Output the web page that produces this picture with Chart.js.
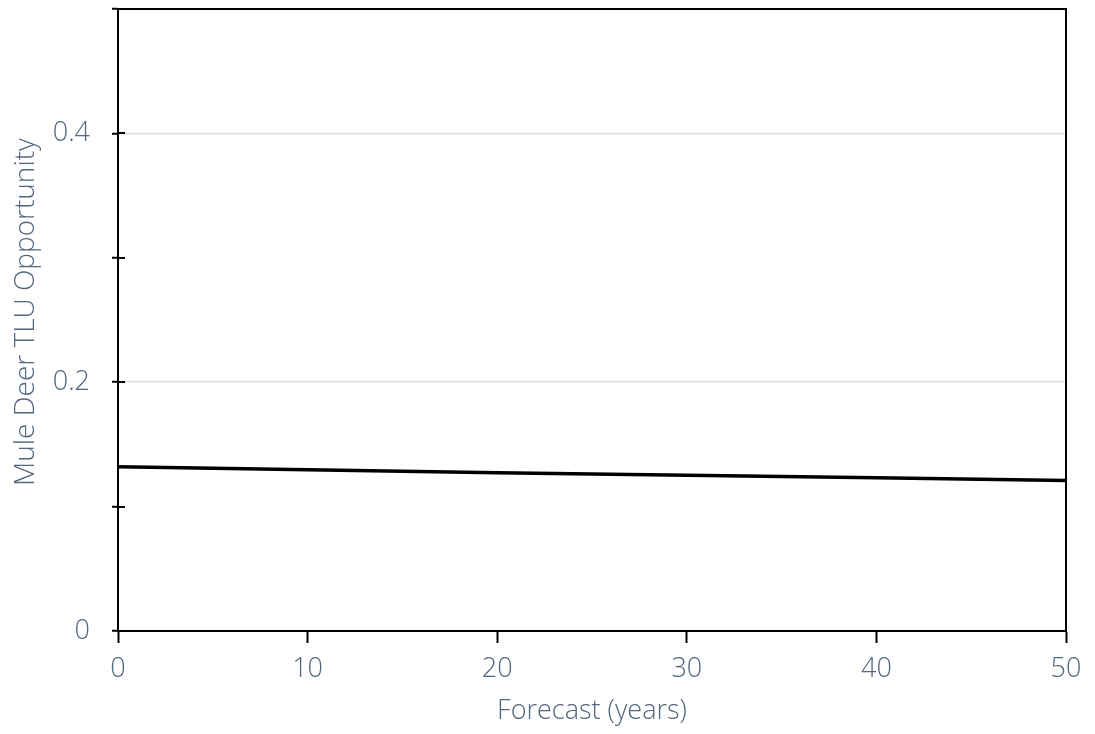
<!DOCTYPE html>
<html>
<head>
<meta charset="utf-8">
<script src="https://cdn.jsdelivr.net/npm/chart.js@4/dist/chart.umd.min.js"></script>
<style>
  html, body { margin: 0; padding: 0; background: #fff; }
  #wrap { width: 1095px; height: 734px; }
</style>
</head>
<body>
<div id="wrap"><canvas id="myChart" width="1095" height="734"></canvas></div>
<script>
// forecast years and the mule deer TLU opportunity index
var years = [0, 10, 20, 30, 40, 50];
var opportunity = [0.132, 0.1296, 0.1272, 0.1252, 0.1231, 0.121];

// axis settings
var xTicks = [0, 10, 20, 30, 40, 50];
var yLabelled = [0, 0.2, 0.4];
var yTitle = "Mule Deer TLU Opportunity";

var textColor = "#55677f";
var fontFamily = "'Open Sans', 'Noto Sans', sans-serif";
var fontWeight = "300";

// frame around the plot area, inner half of the y tick marks, y title
var framePlugin = {
  id: "frame",
  afterDraw: function (chart) {
    var ctx = chart.ctx;
    var a = chart.chartArea;
    var yScale = chart.scales.y;
    ctx.save();
    ctx.strokeStyle = "#000";
    ctx.lineWidth = 2;
    ctx.beginPath();
    ctx.moveTo(a.left, a.top);
    ctx.lineTo(a.right, a.top);
    ctx.lineTo(a.right, a.bottom);
    ctx.stroke();
    yScale.ticks.forEach(function (t) {
      var py = Math.round(yScale.getPixelForValue(t.value));
      ctx.beginPath();
      ctx.moveTo(a.left, py);
      ctx.lineTo(a.left + 7, py);
      ctx.stroke();
    });
    // rotated y title, baseline on the right
    ctx.translate(34, 312);
    ctx.rotate(-Math.PI / 2);
    ctx.font = fontWeight + " 28px " + fontFamily;
    ctx.fillStyle = textColor;
    ctx.textAlign = "center";
    ctx.textBaseline = "alphabetic";
    ctx.fillText(yTitle, 0, 0);
    ctx.restore();
  }
};

var points = years.map(function (yr, i) { return { x: yr, y: opportunity[i] }; });

var ctx = document.getElementById("myChart").getContext("2d");
var chart = new Chart(ctx, {
  type: "line",
  data: {
    datasets: [{
      data: points,
      borderColor: "#000",
      borderWidth: 3.5,
      pointRadius: 0,
      tension: 0,
      fill: false
    }]
  },
  options: {
    responsive: false,
    animation: false,
    layout: { padding: { left: 0, right: 29, top: 9, bottom: 0 } },
    plugins: { legend: { display: false }, tooltip: { enabled: false } },
    scales: {
      x: {
        type: "linear",
        min: 0,
        max: 50,
        afterBuildTicks: function (s) { s.ticks = xTicks.map(function (v) { return { value: v }; }); },
        afterFit: function (s) { s.height = 103; s.paddingLeft = 0; s.paddingRight = 0; },
        grid: { drawOnChartArea: false, tickLength: 12, tickWidth: 2, tickColor: "#000" },
        border: { color: "#000", width: 2 },
        ticks: { color: textColor, font: { family: fontFamily, size: 27, weight: fontWeight }, padding: 10, maxRotation: 0 },
        title: {
          display: true,
          text: "Forecast (years)",
          color: textColor,
          font: { family: fontFamily, size: 27, weight: fontWeight },
          padding: { top: 0, bottom: 6 }
        }
      },
      y: {
        min: 0,
        max: 0.5,
        ticks: {
          stepSize: 0.1,
          color: textColor,
          font: { family: fontFamily, size: 27, weight: fontWeight },
          padding: 22,
          callback: function (v) {
            var r = Math.round(v * 10) / 10;
            return yLabelled.indexOf(r) >= 0 ? String(r) : "";
          }
        },
        afterFit: function (s) { s.width = 118; s.paddingTop = 0; s.paddingBottom = 0; },
        grid: {
          color: function (c) {
            var r = Math.round(c.tick.value * 10) / 10;
            return (r === 0.2 || r === 0.4) ? "#dadde5" : "rgba(0,0,0,0)";
          },
          lineWidth: 1.5,
          tickLength: 6,
          tickWidth: 2,
          tickColor: "#000"
        },
        border: { color: "#000", width: 2 }
      }
    }
  },
  plugins: [framePlugin]
});
</script>
</body>
</html>
